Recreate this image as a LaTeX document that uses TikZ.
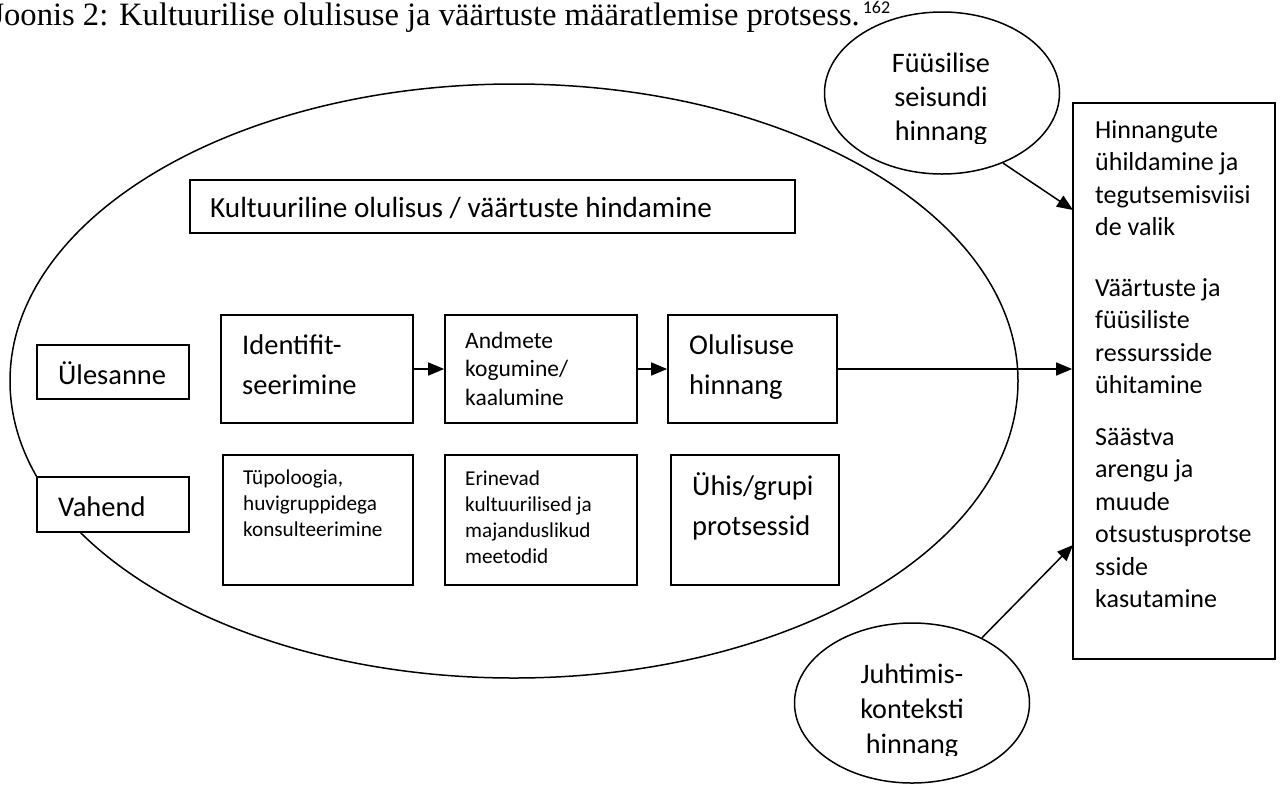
\documentclass[tikz,border=0pt]{standalone}
\usepackage{fontspec}
\setmainfont{Carlito}
\newfontfamily\capfont{Liberation Serif}
\usetikzlibrary{arrows.meta,shapes.geometric}
\begin{document}
\begin{tikzpicture}[x=1pt,y=-1pt,
  box/.style={draw, line width=1.7pt, fill=white, inner sep=0pt},
  oval/.style={draw, ellipse, line width=1.5pt, inner sep=0pt, minimum width=235pt, minimum height=162pt},
  txt/.style={inner sep=0pt, anchor=base west, align=left},
  ctxt/.style={inner sep=0pt, anchor=base, align=center},
  conn/.style={line width=1.5pt, -{Triangle[length=16pt,width=13pt]}},
  fbig/.style={font=\fontsize{28.5}{40.5}\selectfont},
  fmid/.style={font=\fontsize{23.5}{28.5}\selectfont},
  fsml/.style={font=\fontsize{21.2}{26}\selectfont},
  frgt/.style={font=\fontsize{26}{32.5}\selectfont}]
\useasboundingbox (0,0) rectangle (1284,785);
\fill[white] (0,0) rectangle (1284,785);

% caption
\node[inner sep=0pt, anchor=base west, font=\capfont\fontsize{32.6}{36}\selectfont] (cap) at (-8.7,25)
  {Joonis 2: Kultuurilise olulisuse ja väärtuste määratlemise protsess.\hspace{3pt}\raisebox{12pt}{\fontspec{Carlito}\fontsize{18}{18}\selectfont 162}};

% big ellipse
\draw[line width=1.5pt] (514,381) ellipse [x radius=504, y radius=297];

% boxes
\node[box, minimum width=605pt, minimum height=53pt] (title) at (492.5,206.5) {};
\node[box, minimum width=152pt, minimum height=54pt] (ule) at (113,372) {};
\node[box, minimum width=152pt, minimum height=55pt] (vah) at (113,504.5) {};
\node[box, minimum width=192pt, minimum height=108pt] (ide) at (317,369) {};
\node[box, minimum width=190pt, minimum height=130pt] (tup) at (318,520) {};
\node[box, minimum width=192pt, minimum height=108pt] (and) at (541,369) {};
\node[box, minimum width=192pt, minimum height=130pt] (eri) at (541,520) {};
\node[box, minimum width=169pt, minimum height=108pt] (olu) at (752.5,369) {};
\node[box, minimum width=168pt, minimum height=130pt] (uhi) at (755,520) {};
\node[box, minimum width=202pt, minimum height=556pt] (rb) at (1174,381) {};

% ovals
\node[oval] (fus) at (942,93) {};
\node[oval, minimum height=160pt] (juh) at (912,703) {};

% texts (base anchor = baseline of the last line)
\node[txt, font=\fontsize{29.2}{34}\selectfont] (titlet) at (210,217) {Kultuuriline olulisus / väärtuste hindamine};
\node[txt, fbig] (ulet) at (58,384) {Ülesanne};
\node[txt, fbig] (vaht) at (58,516) {Vahend};
\node[txt, fbig] (idet) at (242,394.5) {Identifit-\\seerimine};
\node[txt, fsml] (tupt) at (243,536) {Tüpoloogia,\\huvigruppidega\\konsulteerimine};
\node[txt, fmid] (andt) at (465,405) {Andmete\\kogumine/\\kaalumine};
\node[txt, fsml] (erit) at (465,563) {Erinevad\\kultuurilised ja\\majanduslikud\\meetodid};
\node[txt, fbig] (olut) at (689,394.5) {Olulisuse\\hinnang};
\node[txt, fbig] (uhit) at (692,535.5) {Ühis/grupi\\protsessid};
\node[txt, frgt] (rb1) at (1095,235.5) {Hinnangute\\ühildamine ja\\tegutsemisviisi\\de valik};
\node[txt, frgt] (rb2) at (1095,393.5) {Väärtuste ja\\füüsiliste\\ressursside\\ühitamine};
\node[txt, frgt] (rb3) at (1095,607.5) {Säästva\\arengu ja\\muude\\otsustusprotse\\sside\\kasutamine};
\begin{scope}
  \clip (800,0) rectangle (1080,143);
  \node[ctxt, font=\fontsize{28.2}{34}\selectfont] (fust) at (941,140) {Füüsilise\\seisundi\\hinnang};
\end{scope}
\begin{scope}
  \clip (780,600) rectangle (1050,755);
  \node[ctxt, font=\fontsize{28.2}{35}\selectfont] (juht) at (912,753) {Juhtimis-\\konteksti\\hinnang};
\end{scope}

% connectors
\draw[conn] (ide.east) -- (and.west);
\draw[conn] (and.east) -- (olu.west);
\draw[conn] (olu.east) -- (olu.east -| rb.west);
\coordinate (t1) at (1073,210);
\coordinate (t2) at (1073,545);
\draw[conn] (fus.-49) -- (t1);
\draw[conn] (juh.43) -- (t2);
\end{tikzpicture}
\end{document}
